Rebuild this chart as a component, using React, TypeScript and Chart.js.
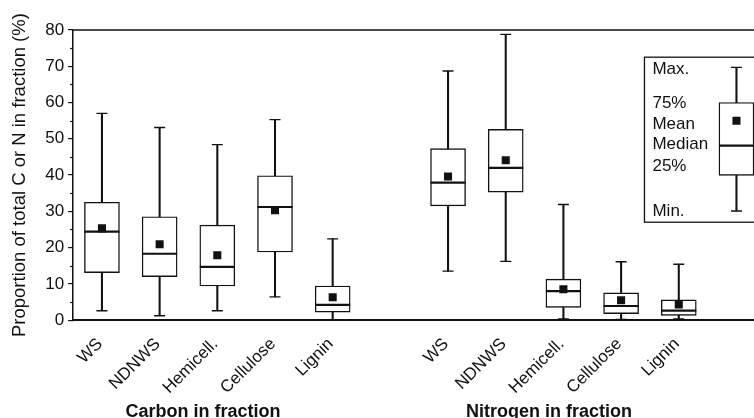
import React, { useEffect, useRef } from "react";
import { Chart, registerables } from "chart.js";

Chart.register(...registerables);

const FONT = "'Liberation Sans', Arial, Helvetica, sans-serif";

// Categories
const fractions = ["WS", "NDNWS", "Hemicell.", "Cellulose", "Lignin"];
const groupTitles = ["Carbon in fraction", "Nitrogen in fraction"];
const yTitle = "Proportion of total C or N in fraction (%)";

// Carbon in fraction statistics (%)
const carbonMin = [2.6, 1.2, 2.6, 6.4, 0];
const carbonQ1 = [13.1, 12.0, 9.4, 18.8, 2.2];
const carbonMedian = [24.4, 18.3, 14.7, 31.2, 4.2];
const carbonQ3 = [32.5, 28.5, 26.2, 39.8, 9.4];
const carbonMax = [57.0, 53.1, 48.4, 55.3, 22.4];
const carbonMean = [25.3, 20.9, 17.9, 30.3, 6.3];

// Nitrogen in fraction statistics (%)
const nitrogenMin = [13.5, 16.2, 0.3, 0.2, 0.3];
const nitrogenQ1 = [31.5, 35.3, 3.5, 1.8, 1.3];
const nitrogenMedian = [37.9, 42.0, 8.0, 3.9, 2.6];
const nitrogenQ3 = [47.3, 52.6, 11.3, 7.5, 5.6];
const nitrogenMax = [68.7, 78.8, 31.9, 16.1, 15.4];
const nitrogenMean = [39.6, 44.1, 8.5, 5.5, 4.3];

// Key (legend) sample box: min, q1, median, q3, max, mean
const keyMin = 30.1;
const keyQ1 = 39.9;
const keyMedian = 48.1;
const keyQ3 = 60.0;
const keyMax = 69.7;
const keyMean = 55.0;
const keyLabels = ["Max.", "75%", "Mean", "Median", "25%", "Min."];
const keyLabelValues = [69.2, 59.8, 54.0, 48.4, 42.3, 30.0];
const keyFrameValues = [72.5, 27.0]; // top, bottom

// Axis
const yMin = 0;
const yMax = 80;
const yStep = 10;
const yMinorTicks = [5, 15, 25, 35, 45, 55, 65, 75];

const labels = [...fractions, "", ...fractions, ""];
const join = (c: number[], n: number[], k: number) => [...c, null, ...n, k];

const allMin = join(carbonMin, nitrogenMin, keyMin);
const allQ1 = join(carbonQ1, nitrogenQ1, keyQ1);
const allMedian = join(carbonMedian, nitrogenMedian, keyMedian);
const allQ3 = join(carbonQ3, nitrogenQ3, keyQ3);
const allMax = join(carbonMax, nitrogenMax, keyMax);
const allMean = join(carbonMean, nitrogenMean, keyMean);

const INK = "#111";

const decorPlugin = {
  id: "decor",
  afterDraw(chart: any) {
    const { ctx, chartArea } = chart;
    const x = chart.scales.x;
    const y = chart.scales.y;
    ctx.save();
    ctx.strokeStyle = INK;
    ctx.fillStyle = INK;
    // top border
    ctx.lineWidth = 1.5;
    ctx.beginPath();
    ctx.moveTo(chartArea.left, chartArea.top);
    ctx.lineTo(chart.width + 5, chartArea.top);
    ctx.stroke();
    // minor ticks
    ctx.lineWidth = 1.2;
    yMinorTicks.forEach((v) => {
      const py = Math.round(y.getPixelForValue(v)) + 0.5;
      ctx.beginPath();
      ctx.moveTo(chartArea.left - 3, py);
      ctx.lineTo(chartArea.left, py);
      ctx.stroke();
    });
    // key frame
    const kx = x.getPixelForValue(labels.length - 1);
    const fl = kx - 92;
    const ft = y.getPixelForValue(keyFrameValues[0]);
    const fb = y.getPixelForValue(keyFrameValues[1]);
    ctx.lineWidth = 1.3;
    ctx.strokeRect(fl, ft, chart.width + 20 - fl, fb - ft);
    ctx.font = `17px ${FONT}`;
    ctx.textAlign = "left";
    ctx.textBaseline = "middle";
    keyLabels.forEach((t, i) => {
      ctx.fillText(t, fl + 8, y.getPixelForValue(keyLabelValues[i]));
    });
    // group titles
    ctx.font = `bold 18px ${FONT}`;
    ctx.textAlign = "center";
    ctx.textBaseline = "alphabetic";
    const centers = [1.75, 7.75];
    groupTitles.forEach((t, i) => {
      ctx.fillText(t, x.getPixelForValue(centers[i]), chart.height - 1);
    });
    ctx.restore();
  },
};

export default function App() {
  const ref = useRef<HTMLCanvasElement | null>(null);
  useEffect(() => {
    if (!ref.current) return;
    const chart = new Chart(ref.current, {
      type: "bar",
      data: {
        labels,
        datasets: [
          {
            type: "bar",
            label: "Range",
            data: allMin.map((v, i) => (v === null ? null : [v, allMax[i] as number])) as any,
            backgroundColor: INK,
            borderWidth: 0,
            barThickness: 1.4,
            grouped: false,
            order: 4,
          },
          {
            type: "bar",
            label: "IQR",
            data: allQ1.map((v, i) => (v === null ? null : [v, allQ3[i] as number])) as any,
            backgroundColor: "#fff",
            borderColor: INK,
            borderWidth: 1.4,
            borderSkipped: false,
            barThickness: 35,
            grouped: false,
            order: 3,
          },
          {
            type: "line",
            label: "Min",
            data: allMin as any,
            showLine: false,
            pointStyle: "line",
            pointRadius: 5.5,
            pointHoverRadius: 5.5,
            pointBorderWidth: 1.4,
            borderColor: INK,
            order: 2,
          },
          {
            type: "line",
            label: "Max",
            data: allMax as any,
            showLine: false,
            pointStyle: "line",
            pointRadius: 5.5,
            pointHoverRadius: 5.5,
            pointBorderWidth: 1.4,
            borderColor: INK,
            order: 2,
          },
          {
            type: "line",
            label: "Median",
            data: allMedian as any,
            showLine: false,
            pointStyle: "line",
            pointRadius: 17.5,
            pointHoverRadius: 17.5,
            pointBorderWidth: 2.2,
            borderColor: INK,
            order: 1,
          },
          {
            type: "line",
            label: "Mean",
            data: allMean as any,
            showLine: false,
            pointStyle: "rect",
            pointRadius: 5.7,
            pointHoverRadius: 5.7,
            pointBorderWidth: 0,
            backgroundColor: INK,
            borderColor: INK,
            order: 0,
          },
        ],
      },
      options: {
        responsive: false,
        animation: false,
        layout: { padding: { left: 7, right: 8, top: 30, bottom: 14 } },
        plugins: { legend: { display: false }, tooltip: { enabled: false } },
        scales: {
          x: {
            type: "category",
            offset: true,
            grid: { display: false },
            border: { display: true, color: INK, width: 2 },
            ticks: {
              autoSkip: false,
              minRotation: 45,
              maxRotation: 45,
              padding: 6,
              labelOffset: -2,
              color: INK,
              font: { family: FONT, size: 17 },
            },
          },
          y: {
            min: yMin,
            max: yMax,
            grid: {
              display: true,
              drawOnChartArea: false,
              drawTicks: true,
              tickLength: 5,
              color: INK,
              lineWidth: 1.2,
            },
            border: { display: true, color: INK, width: 1.5 },
            ticks: {
              stepSize: yStep,
              padding: 4,
              color: INK,
              font: { family: FONT, size: 17 },
            },
            title: {
              display: true,
              text: yTitle,
              color: INK,
              font: { family: FONT, size: 18.5 },
              padding: { top: 2, bottom: 10 },
            },
          },
        },
      },
      plugins: [decorPlugin],
    });
    return () => chart.destroy();
  }, []);
  return (
    <div
      style={{
        position: "fixed",
        left: 0,
        top: 0,
        width: 754,
        height: 418,
        overflow: "hidden",
        background: "#fff",
      }}
    >
      <canvas ref={ref} width={785} height={418} style={{ display: "block" }} />
    </div>
  );
}
